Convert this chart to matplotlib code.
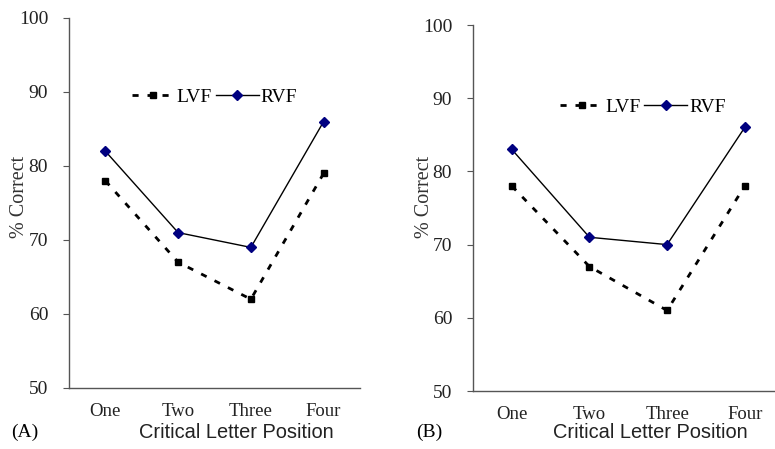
import matplotlib.pyplot as plt

positions = ['One', 'Two', 'Three', 'Four']
lvf_a = [78, 67, 62, 79]
rvf_a = [82, 71, 69, 86]
lvf_b = [78, 67, 61, 78]
rvf_b = [83, 71, 70, 86]

serif = 'Liberation Serif'
sans = 'Liberation Sans'
grey = '#555555'

fig = plt.figure(figsize=(7.75, 4.49), dpi=100)

panels = [
    # rect, xlim right, data, legend anchor, panel tag, label position
    ([69/775, 61/449, 291/775, 370/449], 3.5, lvf_a, rvf_a, (0.5, 0.786), '(A)', 11, 236, 19),
    ([473/775, 58/449, 302/775, 366/449], 3.39, lvf_b, rvf_b, (0.563, 0.776), '(B)', 416, 650, 425),
]

for rect, xr, lvf, rvf, anchor, tag, tag_x, lab_x, ylab_x in panels:
    ax = fig.add_axes(rect)
    x = range(len(positions))
    ax.plot(x, lvf, color='black', linestyle=(0, (2.2, 3.2)), linewidth=2.0,
            marker='s', markersize=4.5, label='LVF')
    ax.plot(x, rvf, color='black', linewidth=1.0, marker='D', markersize=5.5,
            markerfacecolor='#000080', markeredgecolor='#000080', label='RVF')
    ax.set_xlim(-0.5, xr)
    ax.set_ylim(50, 100)
    ax.set_yticks(range(50, 101, 10))
    ax.set_xticks(list(x))
    ax.set_xticklabels(positions, fontfamily=serif, fontsize=13.5)
    for lbl in ax.get_xticklabels():
        lbl.set_color('#222222')
    for lbl in ax.get_yticklabels():
        lbl.set_fontfamily(serif)
        lbl.set_fontsize(14)
        lbl.set_color('#222222')
    ax.tick_params(axis='x', length=0, pad=11)
    ax.tick_params(axis='y', length=4, width=0.8, color=grey, pad=11)
    for s in ['top', 'right']:
        ax.spines[s].set_visible(False)
    for s in ['left', 'bottom']:
        ax.spines[s].set_color(grey)
        ax.spines[s].set_linewidth(1.0)
    ax.legend(loc='center', bbox_to_anchor=anchor, ncol=2, frameon=False,
              prop={'family': serif, 'size': 14}, handlelength=2.2,
              handletextpad=0.1, columnspacing=0.2, borderaxespad=0)
    fig.text(ylab_x / 775, 1 - 197 / 449, '% Correct', rotation=90,
             ha='center', va='center', fontfamily=serif, fontsize=14.5, color='#333333')
    fig.text(tag_x / 775, 1 - 432 / 449, tag, ha='left', va='center',
             fontfamily=serif, fontsize=14)
    fig.text(lab_x / 775, 1 - 432 / 449, 'Critical Letter Position', ha='center',
             va='center', fontfamily=sans, fontsize=14.4, color='#222222')

fig.savefig('out.png', dpi=100)
